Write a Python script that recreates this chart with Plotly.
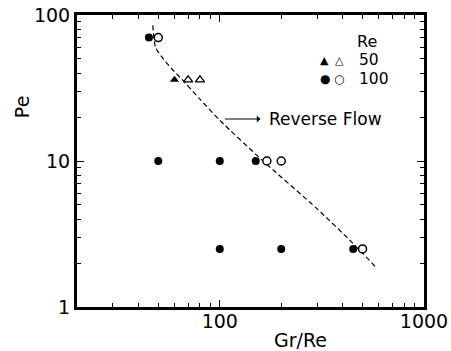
import math
import plotly.graph_objects as go

# ---- data ----
re100_filled_x = [45, 50, 100, 150, 100, 200, 450]
re100_filled_y = [70, 10, 10, 10, 2.5, 2.5, 2.5]
re100_open_x = [50, 170, 200, 500]
re100_open_y = [70, 10, 10, 2.5]
re50_filled_x = [60]
re50_filled_y = [36]
re50_open_x = [70, 80]
re50_open_y = [36, 36]

boundary_x = [47, 48.5, 53, 58.5, 65, 80, 100, 163, 300, 450, 576]
boundary_y = [85, 60, 50, 42.5, 36.5, 26.5, 19, 10, 4.7, 2.72, 1.9]

x_ticks = [100, 1000]
x_minor = [20, 30, 40, 50, 60, 70, 80, 90, 200, 300, 400, 500, 600, 700, 800, 900]
y_ticks = [1, 10, 100]
y_minor = [2, 3, 4, 5, 6, 7, 8, 9, 20, 30, 40, 50, 60, 70, 80, 90]

FONT = "DejaVu Sans"
BLACK = "black"

fig = go.Figure()

fig.add_trace(go.Scatter(
    x=boundary_x, y=boundary_y, mode="lines",
    line=dict(color=BLACK, width=1.2, dash="5px,3px", shape="spline", smoothing=0.6),
    showlegend=False, hoverinfo="skip"))

fig.add_trace(go.Scatter(
    x=re100_filled_x, y=re100_filled_y, mode="markers",
    marker=dict(symbol="circle", size=8, color=BLACK, line=dict(width=0)),
    showlegend=False))
fig.add_trace(go.Scatter(
    x=re100_open_x, y=re100_open_y, mode="markers",
    marker=dict(symbol="circle", size=8, color="white", line=dict(width=1.5, color=BLACK)),
    showlegend=False))
fig.add_trace(go.Scatter(
    x=re50_filled_x, y=re50_filled_y, mode="markers",
    marker=dict(symbol="triangle-up", size=8, color=BLACK, line=dict(width=0)),
    showlegend=False))
fig.add_trace(go.Scatter(
    x=re50_open_x, y=re50_open_y, mode="markers",
    marker=dict(symbol="triangle-up", size=8, color="white", line=dict(width=1.3, color=BLACK)),
    showlegend=False))

axis_common = dict(
    type="log", showgrid=False, zeroline=False, automargin=False,
    showline=True, linecolor=BLACK, linewidth=3, mirror="ticks",
    ticks="inside", ticklen=7, tickwidth=1, tickcolor=BLACK,
    tickfont=dict(family=FONT, size=19, color=BLACK),
)

fig.update_xaxes(
    **axis_common,
    range=[math.log10(20), 3],
    ticklabelstandoff=-5,
    tickmode="array", tickvals=x_ticks, ticktext=[str(v) for v in x_ticks],
    minor=dict(tickmode="array", tickvals=x_minor, ticks="inside", ticklen=4,
               tickwidth=1, tickcolor=BLACK, showgrid=False),
)
fig.update_yaxes(
    **axis_common,
    range=[0, 2],
    tickmode="array", tickvals=y_ticks, ticktext=[str(v) for v in y_ticks],
    minor=dict(tickmode="array", tickvals=y_minor, ticks="inside", ticklen=4,
               tickwidth=1, tickcolor=BLACK, showgrid=False),
)

def legend_text(text, x, y, size, anchor="center"):
    return dict(text=text, xref="paper", yref="paper", x=x, y=y,
                xanchor=anchor, yanchor="middle", showarrow=False,
                font=dict(family=FONT, size=size, color=BLACK))

annotations = [
    # axis titles
    dict(text="Gr/Re", xref="paper", yref="paper", x=0.644, y=-0.113,
         xanchor="center", yanchor="middle", showarrow=False,
         font=dict(family=FONT, size=19, color=BLACK)),
    dict(text="Pe", xref="paper", yref="paper", x=-0.158, y=0.685, textangle=-90,
         xanchor="center", yanchor="middle", showarrow=False,
         font=dict(family=FONT, size=19, color=BLACK)),
    # legend
    legend_text("Re", 0.836, 0.909, 16),
    legend_text("▲", 0.713, 0.845, 11),
    legend_text("△", 0.756, 0.845, 11),
    legend_text("50", 0.806, 0.845, 15.5, "left"),
    legend_text("●", 0.715, 0.781, 12),
    legend_text("○", 0.756, 0.781, 12),
    legend_text("100", 0.806, 0.781, 15.5, "left"),
    # reverse flow label with arrow
    dict(text="", x=math.log10(106), y=math.log10(19.4), xref="x", yref="y",
         showarrow=True, ax=37, ay=0, axref="pixel", ayref="pixel",
         arrowside="start", arrowhead=2, arrowsize=1, arrowwidth=1.2,
         arrowcolor=BLACK),
    dict(text="Reverse Flow", x=math.log10(170), y=math.log10(19.4),
         xref="x", yref="y", xanchor="left", yanchor="middle", showarrow=False,
         font=dict(family=FONT, size=17, color=BLACK)),
]

fig.update_layout(
    width=451, height=351,
    margin=dict(l=77, r=27, t=15, b=44),
    plot_bgcolor="white", paper_bgcolor="white",
    showlegend=False,
    annotations=annotations,
    font=dict(family=FONT, color=BLACK),
)

fig.write_html(
    "out.html",
    config={"displayModeBar": False},
    post_script="document.body.style.margin='0';document.body.style.overflow='hidden';",
)
